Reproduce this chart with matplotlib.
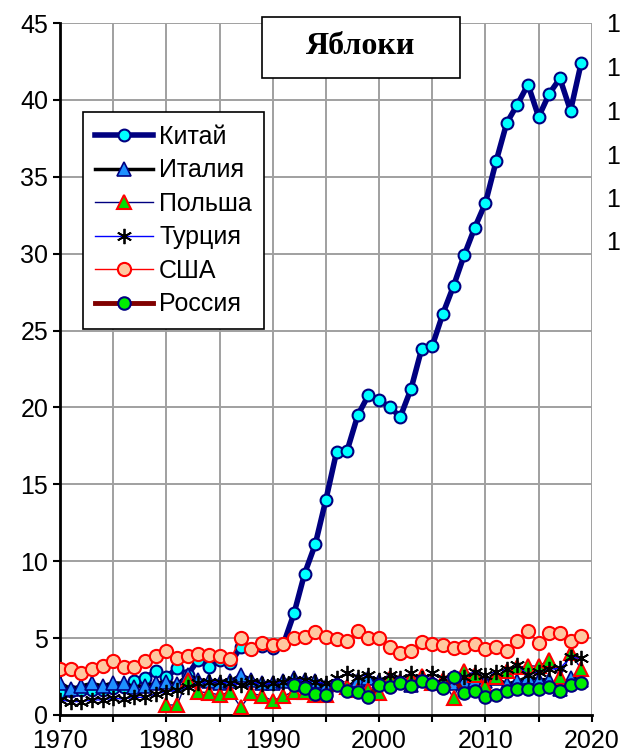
import numpy as np
import matplotlib.pyplot as plt
from matplotlib.patches import Rectangle

years = np.arange(1970, 2020)

china = [1.5, 1.55, 1.6, 1.6, 1.65, 1.75, 1.8, 2.2, 2.4, 2.85,
         2.45, 3.05, 2.6, 3.6, 3.1, 3.6, 3.35, 4.4, 4.3, 4.5,
         4.35, 4.6, 6.6, 9.2, 11.1, 14.0, 17.1, 17.2, 19.5, 20.8,
         20.5, 20.0, 19.4, 21.2, 23.8, 24.0, 26.1, 27.9, 29.9, 31.7,
         33.3, 36.0, 38.5, 39.7, 41.0, 38.9, 40.4, 41.4, 39.3, 42.4]
italy = [2.1, 1.69, 1.89, 2.06, 1.89, 2.1, 2.06, 1.84, 1.89, 2.06,
         2.17, 2.0, 2.6, 2.3, 2.2, 2.1, 2.2, 2.6, 2.3, 2.1,
         2.05, 2.2, 2.4, 2.3, 2.2, 1.9, 2.1, 1.8, 2.3, 2.4,
         2.2, 2.3, 2.2, 1.95, 2.3, 2.2, 2.1, 2.1, 2.2, 2.3,
         2.2, 2.4, 2.0, 2.2, 2.45, 2.3, 2.3, 1.7, 2.4, 2.3]
poland = [np.nan] * 10 + [
         0.65, 0.65, 2.3, 1.5, 1.45, 1.3, 1.5, 0.5, 1.41, 1.24,
         0.93, 1.24, 1.52, 1.5, 1.3, 1.3, 2.0, 1.82, 1.62, 1.62,
         1.41, 2.43, 2.17, 2.43, 2.52, 2.08, 2.3, 1.08, 2.83, 2.63,
         1.88, 2.49, 2.88, 3.09, 3.2, 3.17, 3.6, 2.44, 4.0, 3.0]
turkey = [0.98, 0.87, 0.87, 0.98, 0.98, 1.08, 1.04, 1.15, 1.15, 1.37,
          1.52, 1.62, 1.84, 2.1, 2.17, 2.17, 2.06, 1.95, 2.17, 2.0,
          2.1, 2.17, 2.28, 2.28, 2.17, 2.06, 2.38, 2.71, 2.5, 2.6,
          2.28, 2.6, 2.38, 2.71, 2.38, 2.71, 2.38, 2.46, 2.5, 2.82,
          2.6, 2.82, 2.97, 3.25, 2.6, 2.82, 2.97, 3.03, 3.75, 3.68]
usa = [2.97, 2.97, 2.75, 3.0, 3.19, 3.49, 3.14, 3.14, 3.49, 3.84,
       4.16, 3.68, 3.84, 3.97, 3.9, 3.84, 3.62, 4.98, 4.27, 4.66,
       4.55, 4.62, 4.98, 5.05, 5.38, 5.05, 4.92, 4.83, 5.46, 4.98,
       4.98, 4.44, 4.05, 4.16, 4.77, 4.62, 4.55, 4.34, 4.44, 4.62,
       4.27, 4.44, 4.16, 4.83, 5.48, 4.7, 5.35, 5.35, 4.83, 5.14]
russia = [np.nan] * 22 + [
          1.95, 1.73, 1.37, 1.3, 1.95, 1.58, 1.52, 1.19,
          1.95, 1.8, 2.1, 1.89, 2.23, 2.0, 1.73, 2.45, 1.41, 1.58,
          1.19, 1.3, 1.58, 1.67, 1.67, 1.67, 1.8, 1.58, 1.95, 2.1]

names = ['Китай', 'Италия', 'Польша', 'Турция', 'США', 'Россия']

plt.rcParams['font.family'] = ['Liberation Sans', 'DejaVu Sans']

fig = plt.figure(figsize=(6.21, 7.55), dpi=100)
ax = fig.add_axes([0.0966, 0.053, 0.8564, 0.9165])

ax.plot(years, china, '-o', color='#000080', lw=4, ms=8.5, mfc='#00ffff',
        mec='#000080', mew=1.5, label=names[0], zorder=3)
ax.plot(years, italy, '-^', color='black', lw=2.5, ms=9.5, mfc='#1e90ff',
        mec='#000080', mew=1.2, label=names[1], zorder=4)
ax.plot(years, poland, '-^', color='#000080', lw=1, ms=9.5, mfc='#00dd00',
        mec='red', mew=1.5, label=names[2], zorder=5)
ax.plot(years, turkey, '-', color='#0000ff', lw=1, marker=(6, 2, 0), ms=11,
        mec='black', mew=1.3, label=names[3], zorder=6)
ax.plot(years, usa, '-o', color='red', lw=1, ms=9.5, mfc='#ffc8a0',
        mec='red', mew=1.5, label=names[4], zorder=7)
ax.plot(years, russia, '-o', color='#800000', lw=3.5, ms=9, mfc='#00ee00',
        mec='#000080', mew=1.5, label=names[5], zorder=8)

ax.set_xlim(1970, 2020)
ax.set_ylim(0, 45)
ax.set_xticks(np.arange(1970, 2021, 10))
ax.set_xticks(np.arange(1975, 2020, 10), minor=True)
ax.set_yticks(np.arange(0, 46, 5))
ax.grid(True, which='both', color='#a0a0a0', lw=1.4)
ax.set_axisbelow(True)
ax.tick_params(labelsize=18, width=1.5, length=5, direction='out')
ax.tick_params(which='minor', width=1.5, length=5)
ax.tick_params(axis='x', pad=5)
for s in ['top', 'right']:
    ax.spines[s].set_visible(False)
for s in ['left', 'bottom']:
    ax.spines[s].set_linewidth(2)

leg = ax.legend(loc='upper left', bbox_to_anchor=(0.043, 0.871), fontsize=18,
                frameon=True, fancybox=False, edgecolor='black', framealpha=1,
                handlelength=2.3, labelspacing=0.38, borderpad=0.5, handletextpad=0.25,
                borderaxespad=0)
leg.get_frame().set_linewidth(1.2)

# title box
fig.patches.append(Rectangle((262 / 621, 1 - 78 / 755), 198 / 621, 61 / 755,
                             transform=fig.transFigure, fc='white', ec='black',
                             lw=1.2, zorder=10))
fig.text(361 / 621, 1 - 47 / 755, 'Яблоки', ha='center', va='center', fontsize=23,
         fontweight='bold', family='Liberation Serif', zorder=11)

for yp in [25, 69, 113, 157, 200, 243]:
    fig.text(0.976, 1 - yp / 755, '1', ha='left', va='center', fontsize=18)

fig.savefig('out.png', dpi=100)
